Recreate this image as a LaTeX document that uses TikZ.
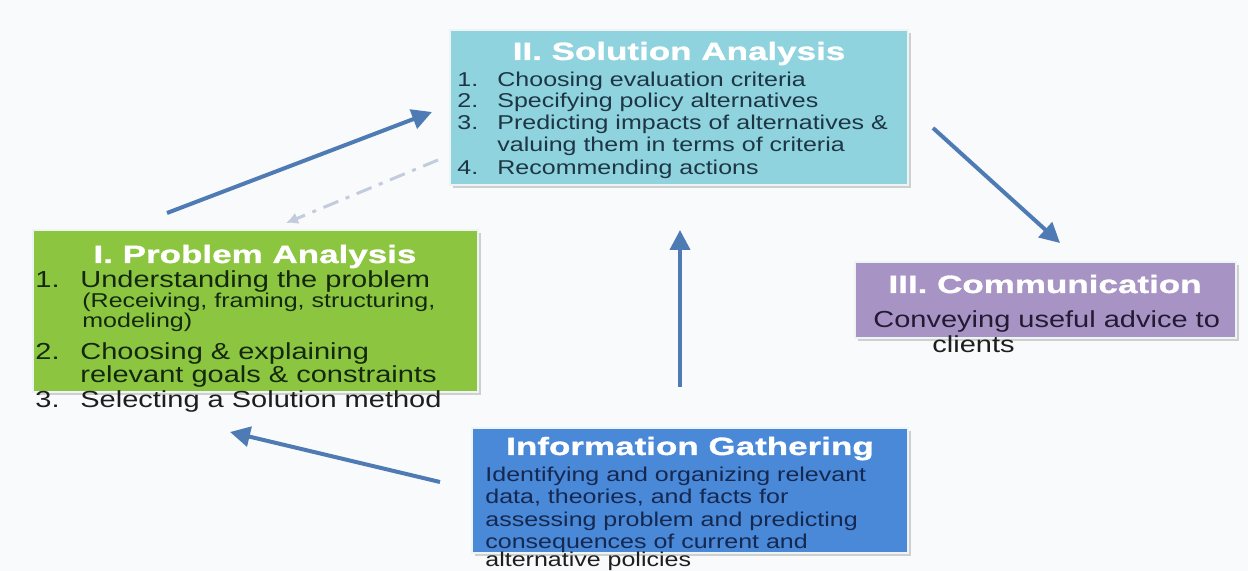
\documentclass[tikz,border=0pt]{standalone}
\usepackage{fontspec}
\setmainfont{Liberation Sans}
\newfontfamily\bodyf[FakeStretch=1.25]{Liberation Sans}
\newfontfamily\titlef[FakeStretch=1.4,FakeBold=1.2]{Liberation Sans}
\usetikzlibrary{arrows.meta,fit,shadows}
\definecolor{bgc}{HTML}{F9FAFB}
\definecolor{solc}{HTML}{8FD3DE}
\definecolor{probc}{HTML}{8CC640}
\definecolor{comc}{HTML}{A794C4}
\definecolor{infc}{HTML}{4A88D8}
\definecolor{arrc}{HTML}{4F7BB5}
\definecolor{dashc}{HTML}{C2CCDD}
\definecolor{soltxt}{HTML}{1E3644}
\definecolor{probtxt}{HTML}{14280F}
\definecolor{comtxt}{HTML}{231A33}
\definecolor{inftxt}{HTML}{152850}
\definecolor{outtxt}{HTML}{1E1E1E}
\definecolor{boxedge}{HTML}{EEF3F4}
\begin{document}
\begin{tikzpicture}[x=0.5pt,y=-0.5pt,
  box/.style={draw=boxedge, line width=1.2pt, inner sep=0pt,
    drop shadow={shadow xshift=1.5pt, shadow yshift=-1.5pt, opacity=0.35}},
  ttl/.style={anchor=base, text=white, inner sep=0pt,
    font=\titlef\bfseries\fontsize{12.5}{14}\selectfont},
  ln/.style={anchor=base west, inner sep=0pt},
  small/.style={ln, font=\bodyf\fontsize{10}{11}\selectfont},
  big/.style={ln, font=\bodyf\fontsize{11.6}{13}\selectfont},
  arr/.style={draw=arrc, line width=2pt, -{Triangle[length=10pt,width=10pt]}},
  dasharr/.style={draw=dashc, line width=1.5pt, dash pattern=on 8pt off 4pt on 2pt off 4pt,
    -{Latex[length=6pt,width=6pt]}},
]
\fill[bgc] (0,0) rectangle (1248,571);
\useasboundingbox (0,0) rectangle (1248,571);

% boxes
\node[box, fill=solc, fit={(450,30)(908,185)}] (sol) {};
\node[box, fill=probc, fit={(33,230)(478,392)}] (prob) {};
\node[box, fill=comc, fit={(855,262)(1236,338)}] (com) {};
\node[box, fill=infc, fit={(472,428)(908,553)}] (inf) {};

% arrows
\coordinate (a1s) at (167,213); \coordinate (a1e) at (432,112);
\coordinate (a2s) at (933,128); \coordinate (a2e) at (1060,243);
\coordinate (a3s) at (680,387); \coordinate (a3e) at (680,230);
\coordinate (a4s) at (440,482); \coordinate (a4e) at (230,432);
\coordinate (d1s) at (438,160); \coordinate (d1e) at (286,223);
\draw[arr] (a1s) -- (a1e);
\draw[arr] (a2s) -- (a2e);
\draw[arr] (a3s) -- (a3e);
\draw[arr] (a4s) -- (a4e);
\draw[dasharr] (d1s) -- (d1e);

% Solution Analysis
\node[ttl] (solt) at (679,60) {II. Solution Analysis};
\begin{scope}[every node/.style={small, text=soltxt}]
\node (s1) at (457,87) {\makebox[20pt][l]{1.}Choosing evaluation criteria};
\node (s2) at (457,108) {\makebox[20pt][l]{2.}Specifying policy alternatives};
\node (s3) at (457,130) {\makebox[20pt][l]{3.}Predicting impacts of alternatives \&};
\node (s3b) at (497,152) {valuing them in terms of criteria};
\node (s4) at (457,175) {\makebox[20pt][l]{4.}Recommending actions};
\end{scope}

% Problem Analysis
\node[ttl] (probt) at (255,263) {I. Problem Analysis};
\node[big, text=probtxt] (p1) at (35,288) {\makebox[22.5pt][l]{1.}Understanding the problem};
\node[small, text=probtxt] (p1b) at (82,308) {(Receiving, framing, structuring,};
\node[small, text=probtxt] (p1c) at (82,328) {modeling)};
\node[big, text=probtxt] (p2) at (35,360) {\makebox[22.5pt][l]{2.}Choosing \& explaining};
\node[big, text=probtxt] (p2b) at (80,383) {relevant goals \& constraints};
\node[big, text=outtxt] (p3) at (35,408) {\makebox[22.5pt][l]{3.}Selecting a Solution method};

% Communication
\node[ttl] (comt) at (1045,293) {III. Communication};
\node[big, text=comtxt] (c1) at (873,328) {Conveying useful advice to};
\node[big, text=outtxt] (c2) at (932,353) {clients};

% Information Gathering
\node[ttl] (inft) at (690,455) {Information Gathering};
\begin{scope}[every node/.style={small, text=inftxt}]
\node (i1) at (485,482) {Identifying and organizing relevant};
\node (i2) at (485,503) {data, theories, and facts for};
\node (i3) at (485,527) {assessing problem and predicting};
\node (i4) at (485,548) {consequences of current and};
\end{scope}
\node[small, text=outtxt] (i5) at (485,567) {alternative policies};
\end{tikzpicture}
\end{document}
